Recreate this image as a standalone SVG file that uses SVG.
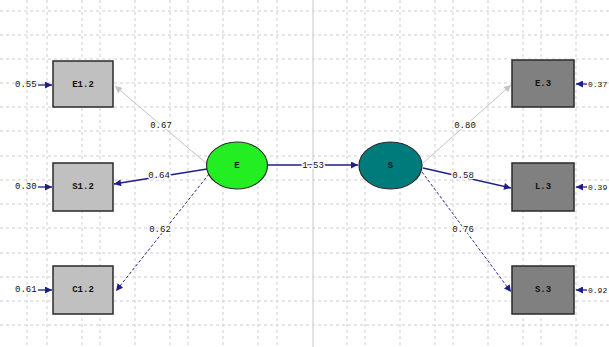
<svg xmlns="http://www.w3.org/2000/svg" width="609" height="347" viewBox="0 0 609 347">
<style>
.grid line{stroke:#cfcfcf;stroke-width:1;stroke-dasharray:3,3}
.box{stroke:#2a2a2a;stroke-width:1.5}
.lt{fill:#c0c0c0}
.dk{fill:#808080}
.t{font-family:"Liberation Mono","DejaVu Sans Mono",monospace;font-size:9px;font-weight:bold;fill:#111;text-anchor:middle;dominant-baseline:central}
.lbl{font-family:"Liberation Mono","DejaVu Sans Mono",monospace;font-size:9px;fill:#111;text-anchor:middle;dominant-baseline:central;paint-order:stroke;stroke:#fff;stroke-width:3px}
.el{font-family:"Liberation Mono","DejaVu Sans Mono",monospace;font-size:9px;fill:#111;dominant-baseline:central}
.er{font-family:"Liberation Mono","DejaVu Sans Mono",monospace;font-size:8px;fill:#111;dominant-baseline:central}
.blue{stroke:#1e1e8a;stroke-width:1.3;fill:none}
.dash{stroke:#2a2a90;stroke-width:1;fill:none;stroke-dasharray:3,2}
.gray{stroke:#c4c4c4;stroke-width:1;fill:none}
</style>
<defs>
<marker id="ab" viewBox="0 0 10 10" refX="10" refY="5" markerWidth="10" markerHeight="7" markerUnits="userSpaceOnUse" orient="auto"><path d="M0,0L10,5L0,10z" fill="#1e1e8a"/></marker>
<marker id="ag" viewBox="0 0 10 10" refX="10" refY="5" markerWidth="10" markerHeight="7" markerUnits="userSpaceOnUse" orient="auto"><path d="M0,0L10,5L0,10z" fill="#c4c4c4"/></marker>
</defs>
<rect width="609" height="347" fill="#fff"/>
<g class="grid">
<line x1="0" y1="11" x2="609" y2="11"/><line x1="0" y1="35" x2="609" y2="35"/><line x1="0" y1="59" x2="609" y2="59"/><line x1="0" y1="83" x2="609" y2="83"/><line x1="0" y1="107" x2="609" y2="107"/><line x1="0" y1="131" x2="609" y2="131"/><line x1="0" y1="156" x2="609" y2="156"/><line x1="0" y1="180" x2="609" y2="180"/><line x1="0" y1="204" x2="609" y2="204"/><line x1="0" y1="228" x2="609" y2="228"/><line x1="0" y1="253" x2="609" y2="253"/><line x1="0" y1="277" x2="609" y2="277"/><line x1="0" y1="301" x2="609" y2="301"/><line x1="0" y1="325" x2="609" y2="325"/>
<line x1="27" y1="0" x2="27" y2="347"/><line x1="47" y1="0" x2="47" y2="347"/><line x1="82" y1="0" x2="82" y2="347"/><line x1="100" y1="0" x2="100" y2="347"/><line x1="135" y1="0" x2="135" y2="347"/><line x1="170" y1="0" x2="170" y2="347"/><line x1="188" y1="0" x2="188" y2="347"/><line x1="223" y1="0" x2="223" y2="347"/><line x1="258" y1="0" x2="258" y2="347"/><line x1="277" y1="0" x2="277" y2="347"/><line x1="347" y1="0" x2="347" y2="347"/><line x1="365" y1="0" x2="365" y2="347"/><line x1="400" y1="0" x2="400" y2="347"/><line x1="435" y1="0" x2="435" y2="347"/><line x1="453" y1="0" x2="453" y2="347"/><line x1="488" y1="0" x2="488" y2="347"/><line x1="523" y1="0" x2="523" y2="347"/><line x1="541" y1="0" x2="541" y2="347"/><line x1="576" y1="0" x2="576" y2="347"/>
<line x1="313" y1="0" x2="313" y2="347" style="stroke:#c8c8c8;stroke-dasharray:none"/>
</g>
<g id="connectors">
<line class="gray" x1="207" y1="164" x2="115" y2="86" marker-end="url(#ag)"/>
<line class="blue" x1="207" y1="169" x2="114" y2="184" marker-end="url(#ab)"/>
<line class="dash" x1="209" y1="174" x2="116" y2="291" marker-end="url(#ab)"/>
<line class="blue" x1="267" y1="165" x2="358" y2="165" marker-end="url(#ab)"/>
<line class="gray" x1="423" y1="163" x2="511" y2="85" marker-end="url(#ag)"/>
<line class="blue" x1="423" y1="168" x2="511" y2="188" marker-end="url(#ab)"/>
<line class="dash" x1="422" y1="172" x2="511" y2="292" marker-end="url(#ab)"/>
<line class="blue" x1="38" y1="85" x2="52" y2="85" marker-end="url(#ab)"/>
<line class="blue" x1="38" y1="187" x2="52" y2="187" marker-end="url(#ab)"/>
<line class="blue" x1="38" y1="290" x2="52" y2="290" marker-end="url(#ab)"/>
<line class="blue" x1="587" y1="84" x2="576" y2="84" marker-end="url(#ab)"/>
<line class="blue" x1="587" y1="187" x2="576" y2="187" marker-end="url(#ab)"/>
<line class="blue" x1="587" y1="290" x2="576" y2="290" marker-end="url(#ab)"/>
<text class="lbl" x="161" y="126">0.67</text>
<text class="lbl" x="159" y="176">0.64</text>
<text class="lbl" x="160" y="230">0.62</text>
<text class="lbl" x="313" y="166">1.53</text>
<text class="lbl" x="465" y="126">0.80</text>
<text class="lbl" x="463" y="176">0.58</text>
<text class="lbl" x="463" y="230">0.76</text>
</g>
<g id="E12"><rect class="box lt" x="53" y="61" width="60" height="46"/><text class="t" x="83" y="85">E1.2</text><text class="el" x="15" y="85">0.55</text></g>
<g id="S12"><rect class="box lt" x="53" y="163" width="60" height="48"/><text class="t" x="83" y="187">S1.2</text><text class="el" x="15" y="187">0.30</text></g>
<g id="C12"><rect class="box lt" x="53" y="266" width="60" height="48"/><text class="t" x="83" y="290">C1.2</text><text class="el" x="15" y="290">0.61</text></g>
<g id="E"><ellipse cx="237" cy="165.5" rx="30.5" ry="23.5" fill="#22ee22" stroke="#2a2a2a" stroke-width="1.2"/><text class="t" x="237" y="166">E</text></g>
<g id="S"><ellipse cx="390.5" cy="165.5" rx="31.5" ry="23.5" fill="#007b7b" stroke="#2a2a2a" stroke-width="1.2"/><text class="t" x="390.5" y="166">S</text></g>
<g id="E3"><rect class="box dk" x="512" y="60" width="62" height="47"/><text class="t" x="543" y="84">E.3</text><text class="er" x="588" y="84">0.37</text></g>
<g id="L3"><rect class="box dk" x="512" y="163" width="62" height="48"/><text class="t" x="543" y="187">L.3</text><text class="er" x="588" y="187">0.39</text></g>
<g id="S3"><rect class="box dk" x="512" y="266" width="62" height="48"/><text class="t" x="543" y="290">S.3</text><text class="er" x="588" y="290">0.92</text></g>
</svg>
